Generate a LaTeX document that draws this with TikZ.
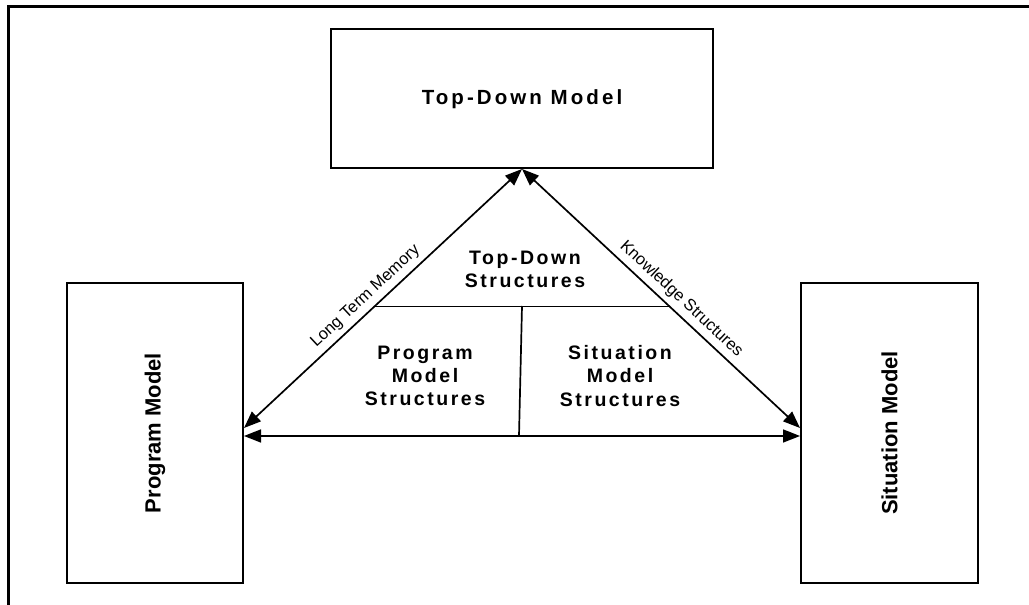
\documentclass[tikz,border=0pt]{standalone}
\usepackage{fontspec}
\setmainfont{Liberation Sans}
\usetikzlibrary{arrows.meta,calc}

\tikzset{
  modelbox/.style={draw, line width=2pt, inner sep=0pt},
  spaced/.style={font=\fontsize{19.5}{23.3}\selectfont\bfseries\addfontfeature{LetterSpace=13},
                 align=center, inner sep=0pt},
  title/.style={font=\fontsize{20.5}{24}\selectfont\bfseries\addfontfeature{LetterSpace=15}},
  upright/.style={font=\fontsize{22}{26}\selectfont\bfseries, rotate=90, inner sep=0pt},
  link/.style={line width=1.7pt,
               {Triangle[length=17pt,width=13pt]}-{Triangle[length=17pt,width=13pt]}},
  divider/.style={line width=1.7pt},
  tag/.style={font=\fontsize{16.5}{19}\selectfont, sloped, above, inner sep=5pt},
  frame/.style={line width=3.5pt}
}

\begin{document}
\begin{tikzpicture}[x=1pt,y=1pt]
\useasboundingbox (0,0) rectangle (1029,605);
\clip (0,0) rectangle (1029,605);
\fill[white] (0,0) rectangle (1029,605);

% outer frame
\draw[frame] (8.7,-20) -- (8.7,598.3) -- (1050,598.3);

% model boxes
\node[modelbox, title, minimum width=382pt, minimum height=138.5pt] (td) at (522,506.25) {Top-Down Model};
\node[modelbox, minimum width=176pt, minimum height=300pt] (pm) at (155,172) {};
\node[modelbox, minimum width=177pt, minimum height=300pt] (sm) at (889.5,172) {};
\node[upright] (pmt) at (pm.center) {Program Model};
\node[upright] (smt) at (sm.center) {Situation Model};

% arrow end points on the side boxes
\coordinate (pmD) at ([yshift=5pt]pm.east);
\coordinate (pmH) at ([yshift=-3pt]pm.east);
\coordinate (smD) at ([yshift=5pt]sm.west);
\coordinate (smH) at ([yshift=-3pt]sm.west);

% connectors
\draw[link] (pmD) -- (td.south) node[tag, pos=0.47] {Long Term Memory};
\draw[link] (td.south) -- (smD) node[tag, pos=0.54] {Knowledge Structures};
\draw[link] (pmH) -- (smH);

% inner partitions of the triangle
\coordinate (tl) at ($(td.south)!0.5308!(pmD)$);
\coordinate (tr) at ($(td.south)!0.5308!(smD)$);
\coordinate (vt) at (522,299);
\coordinate (vb) at (519,169);
\draw[divider] (tl) -- (tr);
\draw[divider] (vt) -- (vb);

% structure labels
\node[spaced] (tds) at (525,335.5) {Top-Down\\Structures};
\node[spaced] (pms) at (425,229) {Program\\Model\\Structures};
\node[spaced] (sms) at (620,229) {Situation\\Model\\Structures};
\end{tikzpicture}
\end{document}
